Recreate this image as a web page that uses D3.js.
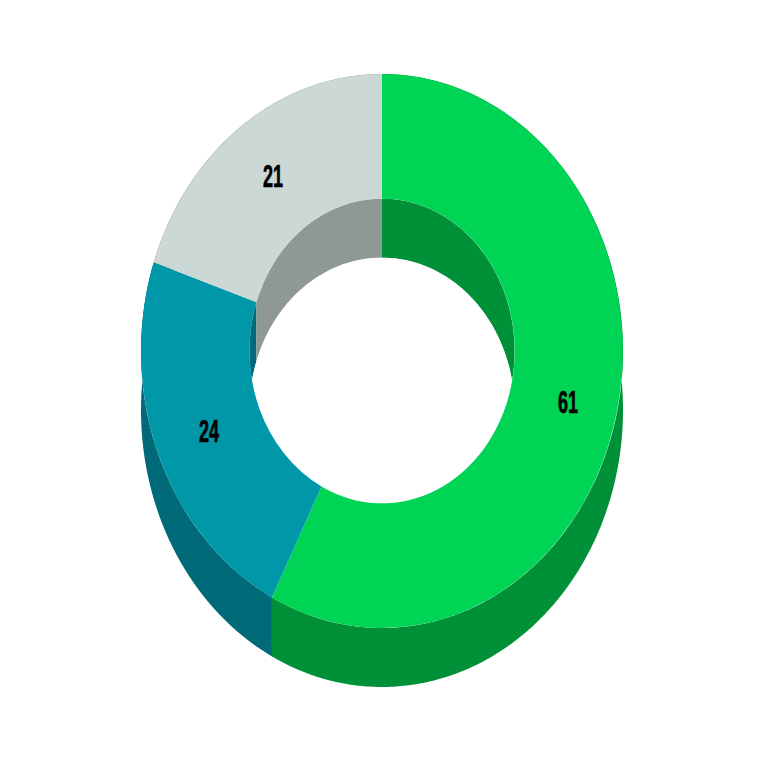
<!DOCTYPE html>
<html><head><meta charset="utf-8">
<script src="https://cdn.jsdelivr.net/npm/d3@7"></script>
<style>html,body{margin:0;padding:0;background:#fff}svg{display:block}</style>
</head><body><svg id="c" width="768" height="768"></svg>
<script>
const categories = ["A","B","C"];
const values = [61,24,21];
const faceColors = ["#00D455","#0097A8","#CCD8D5"];
const sideColors = ["#009138","#006A78","#8E9895"];
const labelRadii = [0.794,0.775,0.775];

const svg = d3.select("#c");
const innerRatio = 0.55, depth = 59;
const x = d3.scaleLinear().domain([-1,1]).range([141,623]);
const y = d3.scaleLinear().domain([-1,1]).range([74,628]);
const pie = d3.pie().value(d=>d).sort(null);
const arcs = pie(values);
const pt = (a,r,d)=>[x(r*Math.sin(a)), y(-r*Math.cos(a))+d];
const line = d3.line();
function wall(a0,a1,r){
  const n = Math.max(2,Math.ceil((a1-a0)*90));
  const as = d3.range(n+1).map(i=>a0+(a1-a0)*i/n);
  return line(as.map(a=>pt(a,r,0)).concat(as.slice().reverse().map(a=>pt(a,r,depth))))+"Z";
}
arcs.forEach((s,i)=>{
  svg.append("path").attr("d",wall(s.startAngle,s.endAngle,1)).attr("fill",sideColors[i]);
});
arcs.forEach((s,i)=>{
  svg.append("path").attr("d",wall(s.startAngle,s.endAngle,innerRatio)).attr("fill",sideColors[i]);
});
svg.append("ellipse")
  .attr("cx",x(0)).attr("cy",y(0)+depth)
  .attr("rx",x(innerRatio)-x(0)).attr("ry",y(innerRatio)-y(0))
  .attr("fill","#fff");
const arc = d3.arc().innerRadius(innerRatio).outerRadius(1);
const sx = x(1)-x(0), sy = y(1)-y(0);
arcs.forEach((s,i)=>{
  svg.append("path").attr("d",arc(s))
    .attr("transform",`translate(${x(0)},${y(0)}) scale(${sx},${sy})`)
    .attr("fill",faceColors[i]);
});
arcs.forEach((s,i)=>{
  const a=(s.startAngle+s.endAngle)/2;
  const p=pt(a,labelRadii[i],0);
  svg.append("text")
    .attr("transform",`translate(${p[0]},${p[1]+10.5}) scale(0.58,1)`)
    .attr("text-anchor","middle")
    .attr("font-family","'Liberation Sans',Arial,sans-serif")
    .attr("font-weight","bold").attr("font-size",31)
    .attr("fill","#000").attr("stroke","#000").attr("stroke-width",0.7)
    .text(s.data);
});
</script></body></html>
